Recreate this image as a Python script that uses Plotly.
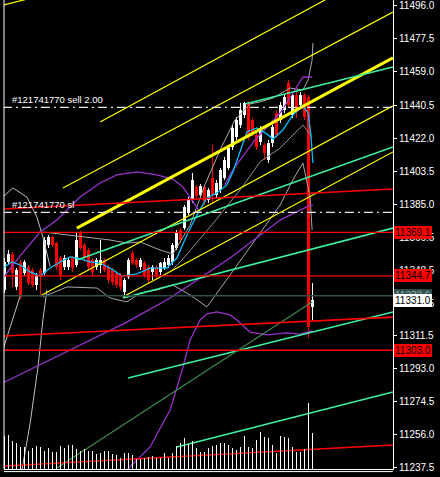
import plotly.graph_objects as go

# ---------------- data ----------------
bars = list(range(78))
opens = [11336.8, 11352.5, 11357.0, 11338.5, 11351.9, 11346.3, 11349.7, 11348.0, 11339.6, 11348.0,
         11346.3, 11362.0, 11366.5, 11363.1, 11354.7, 11349.7, 11349.7, 11354.7, 11350.8, 11368.7,
         11362.0, 11359.2, 11353.6, 11349.7, 11350.8, 11353.6, 11349.7, 11348.0, 11346.3, 11345.2,
         11335.7, 11344.1, 11357.5, 11353.6, 11349.7, 11351.9, 11349.7, 11346.9, 11349.7, 11346.9,
         11349.1, 11350.8, 11352.5, 11360.3, 11370.4, 11371.5, 11380.0, 11387.2, 11394.5, 11390.0,
         11394.5, 11387.2, 11399.6, 11390.0, 11392.9, 11399.6, 11405.2, 11417.0, 11422.6, 11429.3,
         11434.9, 11441.6, 11432.1, 11423.7, 11419.8, 11418.1, 11409.7, 11419.2, 11436.0, 11432.1,
         11437.7, 11452.8, 11434.9, 11446.1, 11440.5, 11446.1, 11445.0, 11327.3]
closes = [11352.5, 11357.0, 11346.3, 11348.0, 11332.9, 11352.5, 11340.7, 11339.6, 11345.2, 11344.1,
          11364.8, 11366.5, 11362.0, 11349.7, 11345.2, 11354.7, 11353.6, 11349.1, 11364.8, 11360.3,
          11354.7, 11349.7, 11346.9, 11353.6, 11353.6, 11348.0, 11342.4, 11341.3, 11339.6, 11338.5,
          11342.4, 11353.6, 11351.9, 11350.8, 11353.6, 11345.2, 11342.4, 11349.7, 11345.2, 11351.9,
          11352.5, 11354.7, 11362.0, 11369.3, 11364.8, 11383.3, 11387.2, 11398.5, 11389.5, 11395.1,
          11386.1, 11392.9, 11390.0, 11396.8, 11404.1, 11409.7, 11416.4, 11427.6, 11432.1, 11437.7,
          11441.6, 11422.6, 11424.8, 11417.0, 11427.6, 11413.6, 11419.2, 11428.2, 11423.7, 11440.5,
          11445.0, 11440.5, 11446.1, 11436.6, 11446.1, 11433.8, 11316.0, 11331.2]
highs = [11354.7, 11359.2, 11358.1, 11349.1, 11353.6, 11353.6, 11350.8, 11349.1, 11346.3, 11349.1,
         11366.5, 11367.6, 11367.1, 11363.7, 11355.9, 11356.4, 11354.7, 11355.9, 11369.3, 11369.9,
         11363.1, 11360.3, 11354.7, 11354.7, 11364.8, 11354.7, 11350.8, 11349.1, 11347.4, 11346.3,
         11343.5, 11354.7, 11358.6, 11354.7, 11354.7, 11353.0, 11350.8, 11350.8, 11350.8, 11352.5,
         11354.7, 11356.4, 11363.1, 11370.4, 11371.5, 11384.4, 11388.9, 11402.4, 11395.7, 11396.2,
         11395.7, 11394.0, 11418.1, 11398.5, 11405.2, 11411.4, 11418.1, 11429.3, 11433.8, 11441.6,
         11442.2, 11442.7, 11433.2, 11424.8, 11428.7, 11419.2, 11420.9, 11429.3, 11437.7, 11442.2,
         11446.1, 11454.5, 11447.2, 11447.8, 11447.8, 11447.2, 11446.1, 11340.7]
lows = [11335.1, 11350.8, 11338.5, 11336.8, 11331.7, 11345.2, 11339.6, 11338.5, 11336.8, 11334.0,
        11345.2, 11360.3, 11360.9, 11348.0, 11342.4, 11348.0, 11348.0, 11346.9, 11349.7, 11359.2,
        11352.5, 11348.0, 11345.2, 11348.0, 11346.3, 11346.9, 11340.7, 11339.6, 11337.9, 11336.8,
        11332.9, 11343.0, 11350.8, 11349.1, 11348.0, 11343.5, 11340.7, 11342.4, 11343.0, 11345.2,
        11348.0, 11349.1, 11350.8, 11359.2, 11363.1, 11370.4, 11378.8, 11385.6, 11388.4, 11388.4,
        11384.4, 11385.6, 11385.6, 11388.4, 11391.2, 11398.5, 11404.1, 11415.3, 11420.9, 11427.6,
        11433.2, 11420.9, 11423.1, 11415.3, 11418.1, 11409.7, 11408.0, 11417.0, 11422.0, 11430.4,
        11436.0, 11438.8, 11433.2, 11433.2, 11438.8, 11432.1, 11309.9, 11320.0]
volumes = [330, 340, 280, 260, 220, 220, 180, 210, 230, 220, 180, 210, 170, 170, 230, 210, 240, 240,
           200, 180, 200, 180, 180, 150, 160, 180, 180, 150, 140, 110, 160, 160, 140, 100, 100, 110,
           120, 130, 110, 110, 160, 110, 160, 230, 260, 310, 250, 280, 210, 170, 170, 210, 230, 240,
           260, 260, 240, 210, 190, 220, 330, 220, 210, 290, 370, 320, 310, 240, 160, 330, 320, 310,
           220, 170, 170, 200, 660, 360]

# indicator curves (bar index, price)
blue_x = [-0.4, 1.9, 3.9, 6.4, 8.9, 11.4, 13.9, 16.4, 18.9, 21.4, 23.9, 26.4, 29.4, 33.1, 36.4, 40.6,
          43.1, 45.6, 48.1, 50.6, 53.1, 55.6, 57.1, 58.9, 60.6, 63.1, 65.6, 67.1, 69.6, 72.1, 74.6,
          75.9, 76.6, 77.1]
blue_y = [11349.1, 11352.5, 11350.8, 11346.9, 11344.6, 11349.1, 11352.5, 11355.3, 11354.2, 11352.5,
          11351.9, 11349.1, 11344.6, 11345.8, 11349.1, 11349.1, 11354.7, 11367.6, 11378.8, 11388.4,
          11391.2, 11395.7, 11402.9, 11414.1, 11425.4, 11427.6, 11424.3, 11421.4, 11426.5, 11434.9,
          11440.0, 11436.0, 11423.7, 11408.0]
purple1_x = [-0.4, 3.9, 8.9, 13.1, 18.9, 23.9, 28.1, 33.1, 38.1, 42.1, 44.6, 46.9, 48.9]
purple1_y = [11343.5, 11355.9, 11369.3, 11376.0, 11388.9, 11396.8, 11401.3, 11403.0, 11401.3, 11399.0,
             11394.5, 11387.2, 11380.5]
purple2_x = [55.1, 57.1, 62.6, 68.9, 72.6, 74.6, 76.9]
purple2_y = [11395.7, 11404.1, 11420.9, 11436.0, 11448.9, 11456.2, 11456.2]
purple3_x = [-0.4, 30.6, 41.4, 56.4, 68.9, 73.9, 76.4, 77.1]
purple3_y = [11284.7, 11318.8, 11332.3, 11354.7, 11376.0, 11381.6, 11384.4, 11384.4]
purple4_x = [30.6, 36.4, 41.4, 44.4, 46.4, 48.9, 50.6, 53.1, 56.4, 58.1, 61.4, 65.6, 70.6, 73.9, 76.9]
purple4_y = [11235.9, 11248.8, 11269.5, 11291.9, 11308.8, 11320.0, 11323.4, 11324.5, 11322.8, 11320.0,
             11313.2, 11311.6, 11312.7, 11312.1, 11313.8]
gray_arc_x = [-0.4, 2.1, 5.6, 8.1, 9.6, 10.6, 11.4]
gray_arc_y = [11388.9, 11394.0, 11388.9, 11377.7, 11366.5, 11358.0, 11350.0]
gray_low_left_x = [4.4, 6.4, 8.4, 9.6, 10.6]
gray_low_left_y = [11236.4, 11262.0, 11294.0, 11320.0, 11336.8]
gray_short_x = [-0.4, 2.1, 3.9]
gray_short_y = [11303.2, 11320.0, 11333.4]
bb_up_x = [9.6, 18.1, 26.4, 30.6, 33.9, 38.9, 42.1, 46.4, 50.1, 53.9, 57.6, 61.4, 63.9, 67.1, 71.4,
           74.6, 75.9, 76.9, 77.1]
bb_up_y = [11369.3, 11367.1, 11364.8, 11363.1, 11363.7, 11359.2, 11357.0, 11373.2, 11395.7, 11415.3,
           11432.1, 11441.1, 11442.2, 11444.4, 11450.0, 11448.9, 11454.5, 11465.7, 11475.3]
bb_lo_x = [9.6, 15.6, 23.1, 26.4, 30.6, 33.9, 38.1, 42.1, 46.4, 50.6, 56.4, 62.1, 68.9, 72.1, 74.6,
           76.4, 76.9]
bb_lo_y = [11332.9, 11338.5, 11337.9, 11332.3, 11330.1, 11335.1, 11336.8, 11339.6, 11334.0, 11327.3,
           11345.2, 11363.1, 11384.4, 11398.5, 11408.0, 11389.0, 11370.4]
bb_mid_x = [41.4, 44.4, 51.4, 58.9, 63.9, 68.9, 74.6, 76.9]
bb_mid_y = [11346.9, 11353.6, 11372.1, 11392.9, 11408.6, 11416.4, 11429.3, 11422.6]

# trend lines: ([x0, x1], [y0, y1])
yellow_thin = [([-0.1, 6.4], [11496.6, 11500.3]),
               ([23.9, 82.6], [11431.0, 11502.4]),
               ([14.6, 97.1], [11394.0, 11492.6]),
               ([8.9, 97.1], [11333.4, 11440.0]),
               ([29.6, 97.1], [11332.9, 11414.2])]
yellow_thick = ([18.1, 97.1], [11371.5, 11466.9])
green_lines = [([60.1, 97.1], [11441.1, 11461.8]),
               ([18.1, 97.1], [11353.6, 11417.0]),
               ([29.6, 97.1], [11332.3, 11371.5]),
               ([30.9, 97.1], [11287.5, 11324.5]),
               ([43.1, 97.1], [11248.8, 11279.6])]
darkgreen_line = ([13.1, 76.9], [11237.0, 11330.1])
red_sloped = [([-0.4, 97.1], [11382.2, 11393.4]),
              ([-0.4, 97.1], [11311.0, 11321.6]),
              ([-0.4, 97.1], [11238.1, 11249.9])]
red_levels = [11369.1, 11344.7, 11303.0]
bid_level = 11333.6
last_price = 11331.0
order_open = 11439.2
order_sl = 11380.3

tick_vals = [11237.5, 11256.0, 11274.5, 11293.0, 11311.5, 11329.5, 11348.0, 11366.5, 11385.0,
             11403.5, 11422.0, 11440.5, 11459.0, 11477.5, 11496.0]
tick_text = ["11237.5", "11256.0", "11274.5", "11293.0", "11311.5", "11329.5", "11348.5", "11366.5",
             "11385.0", "11403.5", "11422.0", "11440.5", "11459.0", "11477.5", "11496.0"]

X_FULL = [-0.4, 97.2]
FONT = "Liberation Sans, Arial, sans-serif"

# ---------------- figure ----------------
fig = go.Figure()

# volumes (overlay axis)
fig.add_trace(go.Bar(x=bars, y=volumes, width=0.25, marker=dict(color="#FFFFFF", line=dict(width=0)),
                     yaxis="y2", hoverinfo="skip"))

# candles: wicks + bodies
cols = ["#FFFFFF" if c >= o else "#FF0000" for o, c in zip(opens, closes)]
fig.add_trace(go.Bar(x=bars, base=lows, y=[h - l for h, l in zip(highs, lows)], width=0.25,
                     marker=dict(color=cols, line=dict(width=0)), hoverinfo="skip"))
fig.add_trace(go.Bar(x=bars, base=[min(o, c) for o, c in zip(opens, closes)],
                     y=[max(abs(c - o), 0.6) for o, c in zip(opens, closes)], width=0.7,
                     marker=dict(color=cols, line=dict(width=0)), hoverinfo="skip"))


def add_line(x, y, color, width=1.0, dash=None):
    fig.add_trace(go.Scatter(x=x, y=y, mode="lines", hoverinfo="skip",
                             line=dict(color=color, width=width, dash=dash)))


# indicators
add_line(gray_arc_x, gray_arc_y, "#C0C0C0")
add_line(gray_low_left_x, gray_low_left_y, "#C0C0C0")
add_line(gray_short_x, gray_short_y, "#C0C0C0")
add_line(bb_up_x, bb_up_y, "#A8A8A8")
add_line(bb_lo_x, bb_lo_y, "#A8A8A8")
add_line(bb_mid_x, bb_mid_y, "#909090")
add_line(purple1_x, purple1_y, "#9932CC", 1.3)
add_line(purple2_x, purple2_y, "#9932CC", 1.3)
add_line(purple3_x, purple3_y, "#9932CC", 1.3)
add_line(purple4_x, purple4_y, "#9932CC", 1.3)
add_line(blue_x, blue_y, "#00BFFF", 1.3)

# objects
for xs, ys in yellow_thin:
    add_line(xs, ys, "#FFFF00", 1.2)
add_line(yellow_thick[0], yellow_thick[1], "#FFFF00", 3)
for xs, ys in green_lines:
    add_line(xs, ys, "#3CF0A0", 1.6)
add_line(darkgreen_line[0], darkgreen_line[1], "#3C8C50", 1.2)
for xs, ys in red_sloped:
    add_line(xs, ys, "#FF0000", 1.6)
for lv in red_levels:
    add_line(X_FULL, [lv, lv], "#FF0000", 1.4)
add_line(X_FULL, [bid_level, bid_level], "#2F4F4F", 1.4)
add_line(X_FULL, [order_open, order_open], "#E8E8E8", 1.3, "9px,4px,2px,4px")
add_line(X_FULL, [order_sl, order_sl], "#E8E8E8", 1.3, "9px,4px,2px,4px")

ann = []
ann.append(dict(x=0, xref="paper", xanchor="left", xshift=6, y=order_open, yref="y", yanchor="bottom",
                text="#121741770 sell 2.00", showarrow=False,
                font=dict(family=FONT, size=9.5, color="#FFFFFF")))
ann.append(dict(x=0, xref="paper", xanchor="left", xshift=6, y=order_sl, yref="y", yanchor="bottom",
                text="#121741770 sl", showarrow=False,
                font=dict(family=FONT, size=9.5, color="#FFFFFF")))


def price_box(val, txt, bg, fg):
    ann.append(dict(x=1, xref="paper", xanchor="left", xshift=1, y=val, yref="y", yanchor="middle",
                    text=txt, showarrow=False, bgcolor=bg, borderpad=0, bordercolor=bg, borderwidth=1,
                    font=dict(family=FONT, size=10, color=fg)))


for lv in red_levels:
    price_box(lv, f"{lv:.1f}", "#FF0000", "#000000")
price_box(bid_level, f"{bid_level:.1f}", "#2F4F4F", "#9AA8A8")
price_box(last_price, f"{last_price:.1f}", "#FFFFFF", "#000000")
ann.append(dict(x=1, xref="paper", xanchor="left", xshift=5, y=-0.010, yref="paper", yanchor="top",
                text="23.02", showarrow=False,
                font=dict(family=FONT, size=10, color="#FFFFFF")))

shapes = [dict(type="line", xref="paper", yref="paper", x0=0, x1=0, y0=0, y1=1,
               line=dict(color="#FFFFFF", width=1)),
          dict(type="line", xref="paper", yref="paper", x0=0, x1=1, y0=-0.0055, y1=-0.0055,
               line=dict(color="#FFFFFF", width=1))]

fig.update_layout(
    width=440, height=477,
    margin=dict(l=4, r=47, t=0, b=8, pad=0),
    paper_bgcolor="#000000", plot_bgcolor="#000000",
    showlegend=False, barmode="overlay", bargap=0,
    xaxis=dict(range=[-0.125, 97.125], showgrid=False, zeroline=False, showticklabels=False,
               ticks="", showline=True, linecolor="#FFFFFF", linewidth=1, fixedrange=True),
    yaxis=dict(range=[11236.44, 11499.36], side="right", showgrid=False, zeroline=False,
               tickvals=tick_vals, ticktext=tick_text, ticks="outside", ticklen=3,
               tickcolor="#FFFFFF", showline=True, linecolor="#FFFFFF", linewidth=1,
               tickfont=dict(family=FONT, size=10, color="#FFFFFF")),
    yaxis2=dict(range=[0, 4690], overlaying="y", visible=False),
    annotations=ann, shapes=shapes,
)

fig.write_html("out.html", config={"displayModeBar": False},
               post_script="document.body.style.margin='0';document.body.style.overflow='hidden';"
                           "document.body.style.background='#000';")
